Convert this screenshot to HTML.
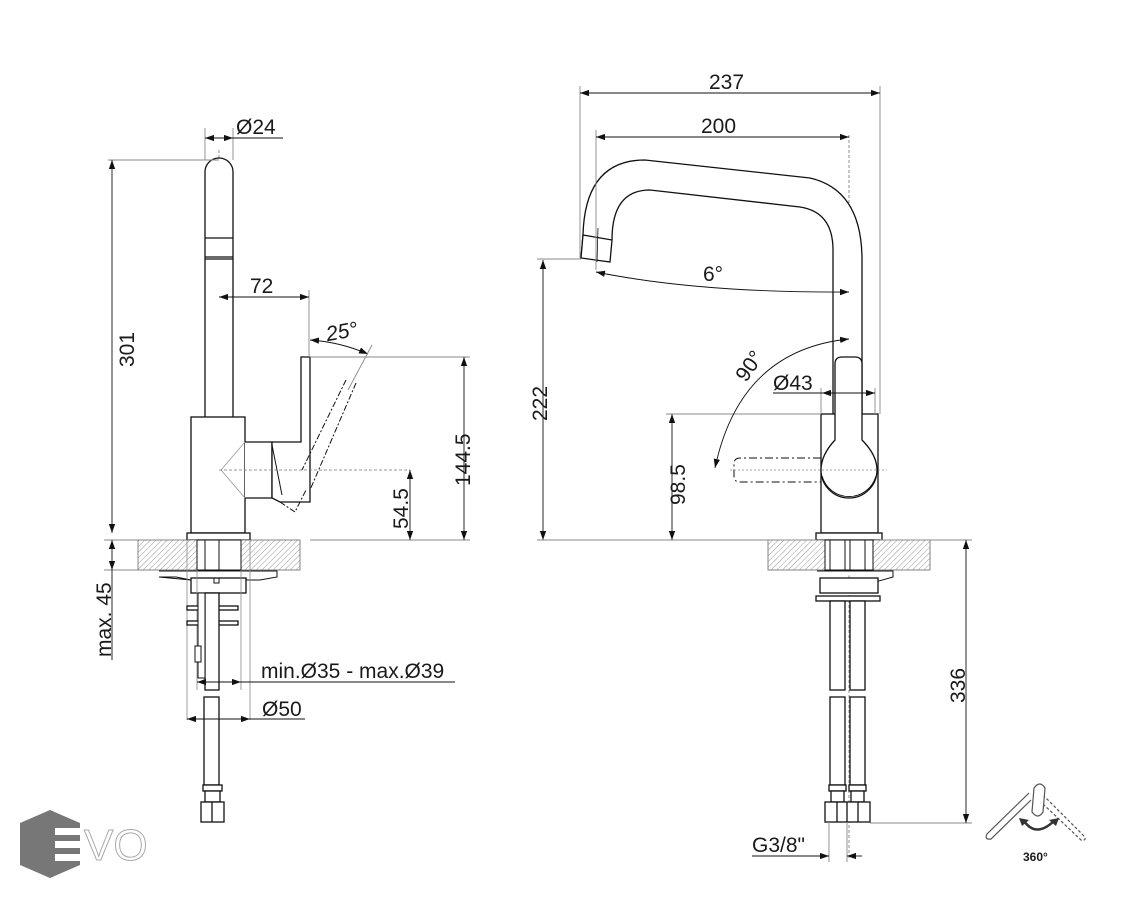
<!DOCTYPE html>
<html><head><meta charset="utf-8"><style>
html,body{margin:0;padding:0;background:#fff;}
svg{display:block;}
text{font-family:"Liberation Sans",Arial,sans-serif;fill:#1a1a1a;}
</style></head><body>
<svg width="1126" height="900" viewBox="0 0 1126 900" xmlns="http://www.w3.org/2000/svg">
<defs>
<pattern id="h" width="4" height="4" patternUnits="userSpaceOnUse" patternTransform="rotate(45)">
<rect width="4" height="4" fill="#fff"/><line x1="0" y1="0" x2="0" y2="4" stroke="#999" stroke-width="1"/>
</pattern>
<marker id="a" viewBox="0 0 10 10" refX="10" refY="5" markerWidth="9" markerHeight="9" orient="auto-start-reverse" markerUnits="userSpaceOnUse">
<path d="M0,1.5 L10,5 L0,8.5 z" fill="#111"/></marker>
</defs>

<g stroke="#111" stroke-width="1.3" fill="none">
<!-- LEFT VIEW -->
<line x1="219" y1="150" x2="219" y2="540" stroke="#777" stroke-width="0.8" stroke-dasharray="3,2"/>
<path d="M205,417 V172 A14,14 0 0 1 233,172 V417" fill="#fff"/>
<line x1="205" y1="238" x2="233" y2="238"/>
<line x1="205" y1="257" x2="233" y2="257"/><line x1="205" y1="259" x2="233" y2="259"/>
<rect x="191" y="417" width="54" height="116" fill="#fff"/>
<rect x="187" y="533" width="63" height="7" fill="#fff"/>
<path d="M245,442 H272 V498 H245" fill="#fff"/>
<path d="M272,442 H301 V357 H310 V502 H280 L272,498 Z" fill="#fff"/>
<path d="M272,445 L282,495" stroke-width="1"/>
<path d="M245,442 L221,470 L245,498" stroke="#999" stroke-width="0.8"/>
<line x1="219" y1="470" x2="410" y2="470" stroke="#777" stroke-width="0.8" stroke-dasharray="3,2"/>
<path d="M356,383 L310,490 M346,380 L302,470 M280,502 L295,512 L306,490" stroke-dasharray="6,2,2,2" stroke-width="1"/>
<!-- countertop left -->
<rect x="138" y="540" width="162" height="30" fill="url(#h)" stroke="#666" stroke-width="0.8"/>
<rect x="197" y="540" width="44" height="30" fill="#fff" stroke-width="1"/>
<rect x="205" y="540" width="14" height="30" fill="#fff" stroke-width="1"/>
<path d="M159,571 H277 V577 L260,580 H246 M191,580 L176,577 H159 Z" fill="#fff" stroke-width="1"/>
<rect x="191" y="578" width="55" height="15" fill="#fff"/>
<rect x="214" y="578" width="5" height="5" stroke-width="1"/>
<line x1="187" y1="540" x2="187" y2="720" stroke="#888" stroke-width="0.8"/>
<line x1="250" y1="540" x2="250" y2="720" stroke="#888" stroke-width="0.8"/>
<line x1="197" y1="570" x2="197" y2="690" stroke="#888" stroke-width="0.8"/>
<line x1="241" y1="570" x2="241" y2="690" stroke="#888" stroke-width="0.8"/>
<rect x="187" y="606" width="51" height="4" fill="#fff"/>
<rect x="187" y="621" width="51" height="4" fill="#fff"/>
<rect x="205" y="593" width="14" height="97" fill="#fff"/>
<rect x="198" y="593" width="7" height="85" fill="#fff" stroke-width="1"/>
<rect x="195" y="646" width="6" height="16" fill="#fff" stroke-width="1"/>
<rect x="204" y="697" width="15" height="88" fill="#fff"/>
<rect x="203" y="785" width="19" height="6" fill="#fff"/>
<rect x="205" y="791" width="15" height="11" fill="#fff"/>
<rect x="201" y="802" width="23" height="20" fill="#fff"/>
<line x1="212" y1="802" x2="212" y2="822"/>

<!-- left dimensions -->
<g stroke-width="0.9">
<line x1="108" y1="160" x2="219" y2="160" stroke="#888"/>
<line x1="112" y1="160" x2="112" y2="533" marker-start="url(#a)" marker-end="url(#a)"/>
<line x1="104" y1="540" x2="138" y2="540" stroke="#888"/>
<line x1="104" y1="570" x2="138" y2="570" stroke="#888"/>
<line x1="112" y1="540" x2="112" y2="570" marker-start="url(#a)" marker-end="url(#a)"/>
<line x1="112" y1="570" x2="112" y2="660"/>
<line x1="205" y1="128" x2="205" y2="160" stroke="#888"/>
<line x1="233" y1="128" x2="233" y2="160" stroke="#888"/>
<line x1="205" y1="138" x2="233" y2="138" marker-start="url(#a)" marker-end="url(#a)"/>
<line x1="233" y1="138" x2="283" y2="138"/>
<line x1="309" y1="290" x2="309" y2="357" stroke="#888"/>
<line x1="219" y1="297" x2="309" y2="297" marker-start="url(#a)" marker-end="url(#a)"/>
<path d="M310,340 Q340,342 368,354" marker-start="url(#a)" marker-end="url(#a)"/>
<line x1="372" y1="345" x2="348" y2="390" stroke="#888"/>
<line x1="310" y1="357" x2="470" y2="357" stroke="#888"/>
<line x1="310" y1="540" x2="470" y2="540" stroke="#888"/>
<line x1="464" y1="357" x2="464" y2="540" marker-start="url(#a)" marker-end="url(#a)"/>
<line x1="410" y1="470" x2="410" y2="540" marker-start="url(#a)" marker-end="url(#a)"/>
<line x1="197" y1="682" x2="241" y2="682" marker-start="url(#a)" marker-end="url(#a)"/>
<line x1="241" y1="682" x2="455" y2="682"/>
<line x1="187" y1="719" x2="250" y2="719" marker-start="url(#a)" marker-end="url(#a)"/>
<line x1="250" y1="719" x2="305" y2="719"/>
</g>

<!-- RIGHT VIEW -->
<line x1="849" y1="135" x2="849" y2="860" stroke="#777" stroke-width="0.8" stroke-dasharray="3,2"/>
<path d="M581,258 L583,235 Q585,160 645,160 L810,178 Q862,190 862,260 V414" fill="#fff"/>
<path d="M612,240 Q612,190 650,190 L800,207 Q833,212 833,250 V414" fill="#fff"/>
<path d="M583,235 L612,240 L610,262 L581,258 Z" fill="#fff"/>
<line x1="598" y1="228" x2="597" y2="262" stroke-width="0.8"/>
<rect x="821" y="414" width="57" height="119" fill="#fff"/>
<rect x="816" y="533" width="66" height="7" fill="#fff"/>
<path d="M835,414 V364 Q835,357 842,357 H855 Q862,357 862,364 V414" fill="#fff"/>
<path d="M835,414 V440 Q821,455 821,470 A28,28 0 0 0 877,470 Q877,455 862,440 V414" fill="#fff"/>
<path d="M822,476 A28,28 0 0 0 876,476" stroke-width="1"/>
<path d="M821,458 H740 Q734,458 734,464 V476 Q734,482 740,482 H821" stroke-dasharray="8,3,2,3" stroke-width="1"/>
<line x1="730" y1="470" x2="887" y2="470" stroke="#888" stroke-width="0.8" stroke-dasharray="2,2"/>
<!-- countertop right -->
<rect x="768" y="540" width="162" height="30" fill="url(#h)" stroke="#666" stroke-width="0.8"/>
<rect x="825" y="540" width="48" height="30" fill="#fff" stroke-width="1"/>
<rect x="830" y="540" width="15" height="30" fill="#fff" stroke-width="1"/>
<rect x="850" y="540" width="15" height="30" fill="#fff" stroke-width="1"/>
<path d="M817,571 H893 V577 L868,584 V578" fill="#fff" stroke-width="1"/>
<rect x="820" y="578" width="58" height="15" fill="#fff"/>
<rect x="816" y="596" width="64" height="5" fill="#fff"/>
<rect x="830" y="601" width="15" height="89" fill="#fff"/>
<rect x="850" y="601" width="15" height="89" fill="#fff"/>
<rect x="830" y="697" width="15" height="88" fill="#fff"/>
<rect x="850" y="697" width="15" height="88" fill="#fff"/>
<rect x="829" y="785" width="17" height="6" fill="#fff"/><rect x="849" y="785" width="17" height="6" fill="#fff"/>
<rect x="831" y="791" width="13" height="11" fill="#fff"/><rect x="851" y="791" width="13" height="11" fill="#fff"/>
<rect x="825" y="802" width="45" height="20" fill="#fff"/>
<line x1="837" y1="802" x2="837" y2="822"/><line x1="847" y1="802" x2="847" y2="822"/><line x1="858" y1="802" x2="858" y2="822"/>

<!-- right dimensions -->
<g stroke-width="0.9">
<line x1="580" y1="86" x2="580" y2="258" stroke="#888"/>
<line x1="880" y1="86" x2="880" y2="414" stroke="#888"/>
<line x1="580" y1="93" x2="880" y2="93" marker-start="url(#a)" marker-end="url(#a)"/>
<line x1="596" y1="130" x2="596" y2="270" stroke="#888"/>
<line x1="596" y1="137" x2="849" y2="137" marker-start="url(#a)" marker-end="url(#a)"/>
<path d="M596,272 Q700,293 849,292" marker-start="url(#a)" marker-end="url(#a)"/>
<line x1="537" y1="259" x2="581" y2="259" stroke="#888"/>
<line x1="543" y1="260" x2="543" y2="540" marker-start="url(#a)" marker-end="url(#a)"/>
<line x1="537" y1="540" x2="816" y2="540" stroke="#888"/>
<line x1="666" y1="414" x2="821" y2="414" stroke="#888"/>
<line x1="672" y1="414" x2="672" y2="540" marker-start="url(#a)" marker-end="url(#a)"/>
<path d="M849,339 Q740,350 715,468" marker-start="url(#a)" marker-end="url(#a)"/>
<line x1="821" y1="388" x2="821" y2="414" stroke="#888"/>
<line x1="875" y1="388" x2="875" y2="414" stroke="#888"/>
<line x1="773" y1="393" x2="822" y2="393"/>
<line x1="822" y1="393" x2="875" y2="393" marker-start="url(#a)" marker-end="url(#a)"/>
<line x1="870" y1="823" x2="972" y2="823" stroke="#888"/>
<line x1="880" y1="540" x2="972" y2="540" stroke="#888"/>
<line x1="966" y1="540" x2="966" y2="823" marker-start="url(#a)" marker-end="url(#a)"/>
<line x1="829" y1="822" x2="829" y2="862" stroke="#888"/>
<line x1="847" y1="822" x2="847" y2="862" stroke="#888"/>
<line x1="752" y1="856" x2="829" y2="856" marker-end="url(#a)"/>
<line x1="862" y1="856" x2="847" y2="856" marker-end="url(#a)"/>
</g>
</g>

<!-- 360 icon -->
<g fill="none" stroke="#555" stroke-width="1.2">
<path d="M1029,793 L987,834 Q984,840 991,839 L1031,800"/>
<path d="M1043,795 L1083,835 Q1088,841 1081,840 L1043,804" stroke-dasharray="3,2"/>
<path d="M1034,788 Q1040,780 1045,788 L1043,812 Q1038,820 1032,812 Z" fill="#fff"/>
<path d="M1024,821 Q1036,838 1054,821" stroke-width="2.5" stroke="#333"/>
</g>
<path d="M1019,818 L1029,820 L1022,826 Z M1059,818 L1049,820 L1056,826 Z" fill="#333"/>
<text x="1023" y="861" font-size="12" font-weight="bold" fill="#444">360°</text>

<!-- EVO logo -->
<polygon points="20,823 50,810 80,823 80,865 50,878 20,865" fill="#777"/>
<rect x="55" y="828" width="30" height="7" fill="#fff"/>
<rect x="55" y="841" width="30" height="7" fill="#fff"/>
<rect x="55" y="854" width="30" height="7" fill="#fff"/>
<text x="84" y="860" font-size="44" fill="#fff" stroke="#aaa" stroke-width="1" style="fill:#fff">VO</text>

<!-- labels -->
<g font-size="21">
<text x="236" y="134">Ø24</text>
<text x="250" y="293">72</text>
<text x="326" y="338" transform="rotate(-10 345 332)" font-style="italic">25°</text>
<text transform="translate(134,367) rotate(-90)">301</text>
<text transform="translate(111,657) rotate(-90)">max. 45</text>
<text transform="translate(470,486) rotate(-90)">144.5</text>
<text transform="translate(408,529) rotate(-90)">54.5</text>
<text x="261" y="678">min.Ø35 - max.Ø39</text>
<text x="262" y="716">Ø50</text>
<text x="709" y="89">237</text>
<text x="701" y="133">200</text>
<text x="703" y="281">6°</text>
<text transform="translate(547,421) rotate(-90)">222</text>
<text transform="translate(685,505) rotate(-90)">98.5</text>
<text transform="translate(746,383) rotate(-55)">90°</text>
<text x="773" y="390">Ø43</text>
<text transform="translate(965,703) rotate(-90)">336</text>
<text x="752" y="852">G3/8"</text>
</g>
</svg>
</body></html>
